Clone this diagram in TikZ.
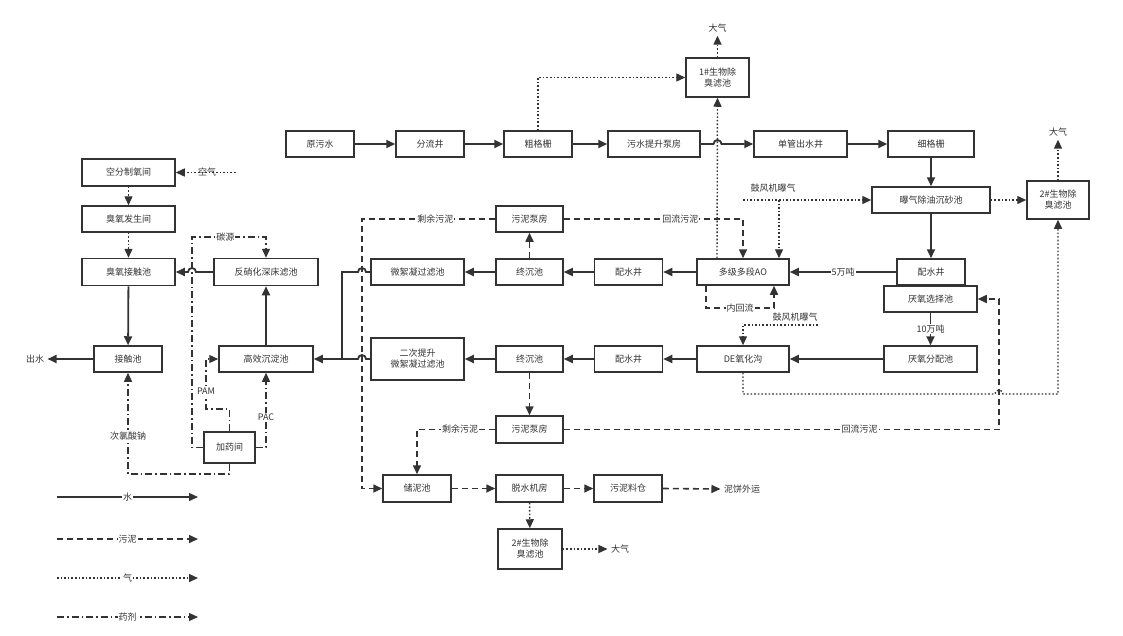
\documentclass[tikz,border=0pt]{standalone}
\usepackage{fontspec}
\setmainfont{Noto Sans CJK SC}
\usetikzlibrary{arrows.meta,calc}
\definecolor{ink}{HTML}{333333}
\begin{document}
\begin{tikzpicture}[x=1pt,y=-1pt,
  every node/.style={font=\fontsize{9}{11}\selectfont, text=ink},
  box/.style={draw=ink, line width=1.5pt, fill=white, minimum height=26pt, inner sep=1pt, align=center},
  lab/.style={fill=white, inner sep=1pt},
  tip/.style={-{Triangle[length=9pt,width=8pt]}},
  wline/.style={draw=ink, line width=1.8pt},
  water/.style={wline, tip},
  sline/.style={draw=ink, line width=1.6pt, dash pattern=on 6pt off 4pt},
  sludge/.style={sline, tip},
  aline/.style={draw=ink, line width=1.4pt, dash pattern=on 1.6pt off 2pt},
  air/.style={aline, tip},
  cline/.style={draw=ink, line width=1.2pt, dash pattern=on 7pt off 3pt on 1.6pt off 3pt},
  chem/.style={cline, tip}
]
\useasboundingbox (0,0) rectangle (1123,635);

% ---- top row
\node[box, minimum width=68pt] (ysw) at (320,144) {原污水};
\node[box, minimum width=68pt] (flj) at (430,144) {分流井};
\node[box, minimum width=68pt] (cgs) at (538,144) {粗格栅};
\node[box, minimum width=92pt] (tsb) at (654,144) {污水提升泵房};
\node[box, minimum width=93pt] (dgc) at (800.5,144) {单管出水井};
\node[box, minimum width=86pt] (xgs) at (931,144) {细格栅};
\node[box, minimum width=63pt, minimum height=39pt] (bf1) at (717.5,77.5) {1\#生物除\\臭滤池};
\node (dq1) at (717.5,28) {大气};

% ---- right column
\node[box, minimum width=118pt] (pq) at (931,200) {曝气除油沉砂池};
\node[box, minimum width=62pt, minimum height=38pt] (bf2) at (1058,200) {2\#生物除\\臭滤池};
\node (dq2) at (1058,132) {大气};
\node[box, minimum width=68pt] (psj1) at (931,272) {配水井};
\node[box, minimum width=93pt] (yxz) at (930.5,299) {厌氧选择池};
\node[box, minimum width=93pt] (yfp) at (930.5,359) {厌氧分配池};

% ---- middle rows
\node[box, minimum width=92pt] (ao) at (743,272) {多级多段AO};
\node[box, minimum width=68pt] (psj2) at (628.5,272) {配水井};
\node[box, minimum width=67pt] (zcc1) at (529.5,272) {终沉池};
\node[box, minimum width=93pt] (wxn) at (417.5,272) {微絮凝过滤池};
\node[box, minimum width=67pt] (wnb1) at (529.5,219) {污泥泵房};

\node[box, minimum width=92pt] (de) at (743,359) {DE氧化沟};
\node[box, minimum width=68pt] (psj3) at (628.5,359) {配水井};
\node[box, minimum width=67pt] (zcc2) at (529.5,359) {终沉池};
\node[box, minimum width=93pt, minimum height=42pt] (ecs) at (417.5,359) {二次提升\\微絮凝过滤池};
\node[box, minimum width=67pt, minimum height=27pt] (wnb2) at (529.5,429.5) {污泥泵房};

\node[box, minimum width=68pt, minimum height=27pt] (cnc) at (417,488.5) {储泥池};
\node[box, minimum width=67pt, minimum height=27pt] (tsj) at (529.5,488.5) {脱水机房};
\node[box, minimum width=68pt, minimum height=27pt] (wnlc) at (628,488.5) {污泥料仓};
\node (nbwy) at (742,489) {泥饼外运};
\node[box, minimum width=64pt, minimum height=40pt] (bf3) at (530,549) {2\#生物除\\臭滤池};
\node (dq3) at (620,549) {大气};

% ---- left column
\node[box, minimum width=93pt, minimum height=27pt] (kf) at (128.5,172.5) {空分制氧间};
\node (kq) at (207,172.5) {空气};
\node[box, minimum width=93pt] (cy) at (128.5,219) {臭氧发生间};
\node[box, minimum width=93pt, minimum height=27pt] (cj) at (128.5,272) {臭氧接触池};
\node[box, minimum width=104pt, minimum height=27pt] (fx) at (266,272) {反硝化深床滤池};
\node[box, minimum width=94pt] (gx) at (266,359) {高效沉淀池};
\node[box, minimum width=68pt] (jc) at (128,359) {接触池};
\node (cs) at (35,359) {出水};
\node[box, minimum width=51pt, minimum height=31pt] (jy) at (229.5,447.5) {加药间};

% ================= water
\draw[water] (ysw) -- (flj);
\draw[water] (flj) -- (cgs);
\draw[water] (cgs) -- (tsb);
\draw[water] (tsb.east) -- (713.5,144) arc[start angle=180,end angle=360,radius=4] -- (dgc.west);
\draw[water] (dgc) -- (xgs);
\draw[water] (xgs) -- (pq);
\draw[water] (pq) -- (psj1);
\draw[water] (psj1.west) -- node[lab]{5万吨} (ao.east);
\draw[water] (yxz.south) -- node[lab]{10万吨} (yfp.north);
\draw[water] (ao) -- (psj2);
\draw[water] (psj2) -- (zcc1);
\draw[water] (zcc1) -- (wxn);
\draw[water] (wxn.west) -- (366,272) arc[start angle=0,end angle=-180,radius=4] -- (342,272) -- (342,359) -- (gx.east);
\draw[wline] (ecs.west) -- (366,359) arc[start angle=0,end angle=-180,radius=4] -- (342,359);
\draw[water] (yfp) -- (de);
\draw[water] (de) -- (psj3);
\draw[water] (psj3) -- (zcc2);
\draw[water] (zcc2) -- (ecs);
\draw[water] (gx) -- (fx);
\draw[water] (fx.west) -- (196,272) arc[start angle=0,end angle=-180,radius=4] -- (cj.east);
\draw[water] (cj) -- (jc);
\draw[water] (jc.west) -- (cs.east);

% ================= sludge
\draw[sludge] (zcc1) -- (wnb1);
\draw[sludge] (wnb1.west) -- node[lab, pos=0.45]{剩余污泥} (362,219) -- (362,488.5) -- (cnc.west);
\draw[sludge] (wnb1.east) -- node[lab, pos=0.65]{回流污泥} (ao.north |- wnb1.east) -- (ao.north);
\draw[sludge] ([xshift=-37pt]ao.south) -- ++(0,22) -- node[lab]{内回流} ++(68,0) -- ([xshift=31pt]ao.south);
\draw[sludge] (zcc2) -- (wnb2);
\draw[sludge] (wnb2.west) -- node[lab, pos=0.45]{剩余污泥} (cnc.north |- wnb2.west) -- (cnc.north);
\draw[sludge] (wnb2.east) -- node[lab, pos=0.68]{回流污泥} (999,429.5) -- (999,299) -- (yxz.east);
\draw[sludge] (cnc) -- (tsj);
\draw[sludge] (tsj) -- (wnlc);
\draw[sludge] (wnlc.east) -- (nbwy.west);

% ================= air
\draw[air] (cgs.north) -- (538,77.5) -- (bf1.west);
\draw[air] ([xshift=-26pt]ao.north) -- (bf1.south);
\draw[air] (bf1.north) -- (dq1.south);
\node (gf1) at (773,188) {鼓风机曝气};
\coordinate (ga) at (743,200);
\draw[air] (ga) -- (pq.west);
\draw[air] (779,200) -- ([xshift=36pt]ao.north);
\draw[air] (pq) -- (bf2);
\draw[air] (bf2.north) -- (dq2.south);
\node (gf2) at (795,317) {鼓风机曝气};
\coordinate (gb) at (818,325);
\draw[air] (gb) -- (743,325) -- (de.north);
\draw[air] (de.south) -- (743,394) -- (995,394) arc[start angle=180,end angle=360,radius=4] -- (1058,394) -- (bf2.south);
\draw[air] (kq.east) ++(16,0) -- (kf.east);
\draw[air] (kf) -- (cy);
\draw[air] (cy) -- (cj);
\draw[air] (tsj) -- (bf3);
\draw[air] (bf3.east) -- (dq3.west);

% ================= chemicals
\draw[chem] (jy.west) -- (192,447.5) -- (192,237) -- node[lab, pos=0.45]{碳源} (fx.north |- 0,237) -- (fx.north);
\draw[chem] (jy.north) -- (229.5,409) -- (206,409) -- node[lab, pos=0.35]{PAM} (206,359) -- (gx.west);
\draw[chem] (jy.east) -- (gx.south |- jy.east) -- node[lab, pos=0.4]{PAC} (gx.south);
\draw[chem] (jy.south) -- (229.5,474) -- (128,474) -- node[lab, pos=0.37]{次氯酸钠} (jc.south);

% ================= legend
\coordinate (l1a) at (57,497); \coordinate (l1b) at (198,497);
\coordinate (l2a) at (57,539); \coordinate (l2b) at (198,539);
\coordinate (l3a) at (57,578); \coordinate (l3b) at (198,578);
\coordinate (l4a) at (57,617); \coordinate (l4b) at (198,617);
\draw[water, line width=1.3pt] (l1a) -- node[lab]{水} (l1b);
\draw[sludge] (l2a) -- node[lab]{污泥} (l2b);
\draw[air] (l3a) -- node[lab]{气} (l3b);
\draw[chem] (l4a) -- node[lab]{药剂} (l4b);
\end{tikzpicture}
\end{document}
